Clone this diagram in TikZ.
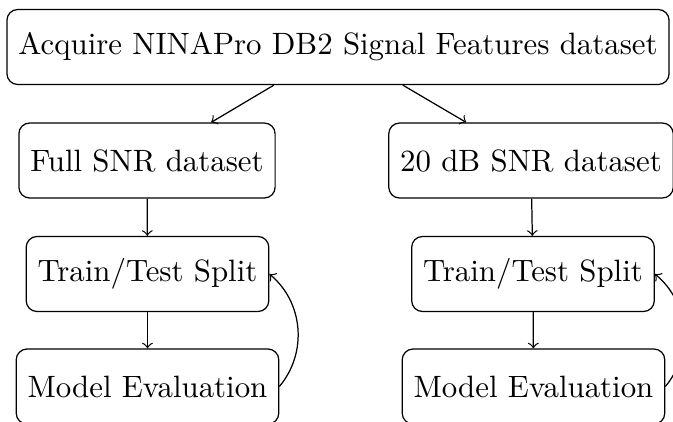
\documentclass[tikz,border=0pt]{standalone}
\begin{document}
\begin{tikzpicture}[x=0.324pt,y=-0.324pt,
  box/.style={draw, rounded corners=3.5pt, inner xsep=3.7pt, minimum height=24.3pt},
  link/.style={->}]
\useasboundingbox (0,0) rectangle (673,421);
\clip (0,0) rectangle (673,421);
\node[box] (top) at (338,47) {Acquire NINAPro DB2 Signal Features dataset};
\node[box] (full) at (147,160.5) {Full SNR dataset};
\node[box] (snr) at (531,160.5) {20 dB SNR dataset};
\node[box] (splitA) at (147.5,274) {Train/Test Split};
\node[box] (splitB) at (533,274) {Train/Test Split};
\node[box] (evalA) at (147.5,386.5) {Model Evaluation};
\node[box] (evalB) at (533.5,386.5) {Model Evaluation};
\draw[link] (top) -- (full);
\draw[link] (top) -- (snr);
\draw[link] (full) -- (splitA);
\draw[link] (splitA) -- (evalA);
\draw[link] (snr) -- (splitB);
\draw[link] (splitB) -- (evalB);
\draw[link] (evalA.east) to[bend right=45] (splitA.east);
\draw[link] (evalB.east) to[bend right=45] (splitB.east);
\end{tikzpicture}
\end{document}
